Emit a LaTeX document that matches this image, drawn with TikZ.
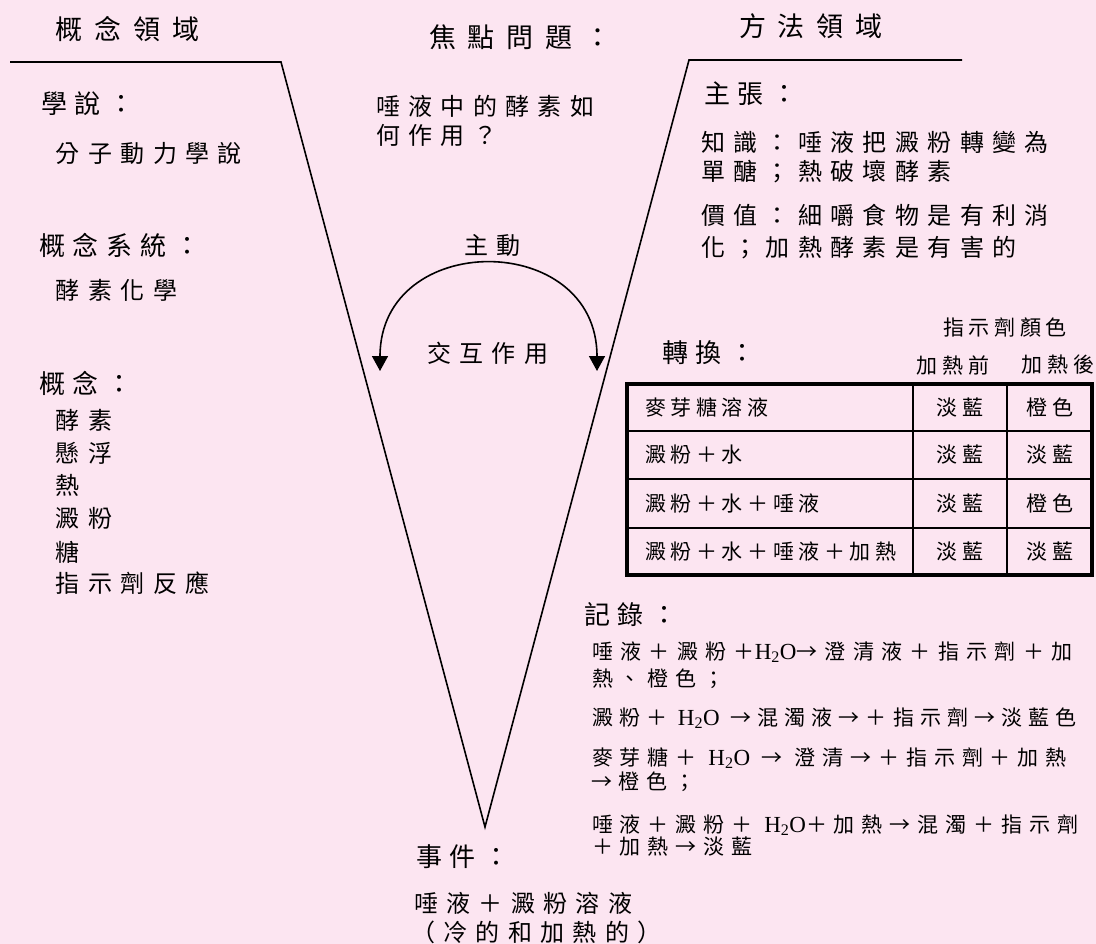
\documentclass[tikz,border=0pt]{standalone}
\usepackage{fontspec}
\setmainfont{Noto Sans CJK TC}
\newfontfamily\lat{Liberation Serif}
\usetikzlibrary{arrows.meta}
\definecolor{bgpink}{RGB}{252,229,241}
\newcommand\fTitle{\fontsize{27}{30}\selectfont\addfontfeature{LetterSpace=44}}
\newcommand\fHead{\fontsize{26}{28}\selectfont\addfontfeature{LetterSpace=30}}
\newcommand\fBody{\fontsize{24}{26}\selectfont\addfontfeature{LetterSpace=35}}
\newcommand\fTab{\fontsize{21}{22}\selectfont\addfontfeature{LetterSpace=22}}
\newcommand\fRec{\fontsize{21}{22}\selectfont\addfontfeature{LetterSpace=33}}
\newcommand\fRecN{\fontsize{21}{22}\selectfont\addfontfeature{LetterSpace=29}}
\newcommand\fRecW{\fontsize{21}{22}\selectfont\addfontfeature{LetterSpace=35}}
\newcommand\HHO{{\lat\fontsize{23}{26}\selectfont H\textsubscript{2}O}}
\begin{document}
\begin{tikzpicture}[x=1pt,y=-1pt,
  every node/.style={inner sep=0pt,outer sep=0pt},
  ttl/.style={anchor=west,font=\fTitle},
  head/.style={anchor=west,font=\fHead},
  body/.style={anchor=west,font=\fBody},
  tab/.style={font=\fTab},
  rec/.style={anchor=west,font=\fRec},
  vline/.style={line width=1.6pt,line join=miter},
  tipped/.style={line width=1.6pt,{Triangle[width=16pt,length=15pt]}-{Triangle[width=16pt,length=15pt]}}]
\fill[bgpink] (0,0) rectangle (1096,944);
\useasboundingbox (0,0) rectangle (1096,944);

% V shape
\coordinate (lend) at (10,62);
\coordinate (ltop) at (281,62);
\coordinate (apex) at (485,827);
\coordinate (rtop) at (689,60);
\coordinate (rend) at (962,60);
\draw[vline] (lend) -- (ltop) -- (apex) -- (rtop) -- (rend);

% titles
\node[ttl] (tConcept) at (56,29) {概念領域};
\node[ttl] (tFocus) at (429,37) {焦點問題：};
\node[ttl] (tMethod) at (739,26) {方法領域};

% left side
\node[head] (hTheory) at (41,104) {學說：};
\node[body] (bTheory) at (56,153) {分子動力學說};
\node[head] (hSystem) at (39,245) {概念系統：};
\node[body] (bSystem) at (56,290) {酵素化學};
\node[head] (hConcept) at (39,383) {概念：};
\node[body] (c1) at (56,420) {酵素};
\node[body] (c2) at (56,453) {懸浮};
\node[body] (c3) at (56,485) {熱};
\node[body] (c4) at (56,518) {澱粉};
\node[body] (c5) at (56,552) {糖};
\node[body] (c6) at (56,583) {指示劑反應};

% focus question
\node[body] (q1) at (376,106) {唾液中的酵素如};
\node[body] (q2) at (376,135) {何作用？};

% interaction arc
\node[body] (active) at (464,245) {主動};
\node[body] (inter) at (427,353) {交互作用};
\coordinate (arcL) at (380,371);
\coordinate (arcR) at (597,371);
\draw[tipped] (arcL) .. controls (380,230) and (597,230) .. (arcR);

% right side claims
\node[head] (hClaim) at (704,94) {主張：};
\node[body] (k1) at (701,142) {知識：唾液把澱粉轉變為};
\node[body] (k2) at (701,172) {單醣；熱破壞酵素};
\node[body] (v1) at (701,215) {價值：細嚼食物是有利消};
\node[body] (v2) at (701,248) {化；加熱酵素是有害的};

% transformation table
\node[head] (hTrans) at (662,353) {轉換：};
\node[tab] (thColor) at (1005,327) {指示劑顏色};
\node[tab] (thBefore) at (953,365) {加熱前};
\node[tab] (thAfter) at (1058,365) {加熱後};
\coordinate (tbNW) at (627,384);
\coordinate (tbSE) at (1092,575);
\draw[line width=1.5pt] (913,384) -- (913,575) (1007,384) -- (1007,575)
  (627,431) -- (1092,431) (627,479) -- (1092,479) (627,528) -- (1092,528);
\draw[line width=4.5pt] (tbNW) rectangle (tbSE);
\node[tab,anchor=west] (r1a) at (645,407.5) {麥芽糖溶液};
\node[tab] (r1b) at (960,407.5) {淡藍};
\node[tab] (r1c) at (1050,407.5) {橙色};
\node[tab,anchor=west] (r2a) at (645,455) {澱粉＋水};
\node[tab] (r2b) at (960,455) {淡藍};
\node[tab] (r2c) at (1050,455) {淡藍};
\node[tab,anchor=west] (r3a) at (645,503.5) {澱粉＋水＋唾液};
\node[tab] (r3b) at (960,503.5) {淡藍};
\node[tab] (r3c) at (1050,503.5) {橙色};
\node[tab,anchor=west] (r4a) at (645,551.5) {澱粉＋水＋唾液＋加熱};
\node[tab] (r4b) at (960,551.5) {淡藍};
\node[tab] (r4c) at (1050,551.5) {淡藍};

% records
\node[head] (hRec) at (584,615) {記錄：};
\node[rec,font=\fRecW] (rec1) at (592,652) {唾液＋澱粉＋\HHO→澄清液＋指示劑＋加};
\node[rec] (rec2) at (592,679) {熱、橙色；};
\node[rec,font=\fRecN] (rec3) at (592,718) {澱粉＋ \HHO\ →混濁液→＋指示劑→淡藍色};
\node[rec] (rec4) at (592,758) {麥芽糖＋ \HHO\ → 澄清→＋指示劑＋加熱};
\node[rec] (rec5) at (591,782) {→橙色；};
\node[rec] (rec6) at (592,825) {唾液＋澱粉＋ \HHO＋加熱→混濁＋指示劑};
\node[rec] (rec7) at (592,847) {＋加熱→淡藍};

% event
\node[head] (hEvent) at (416,857) {事件：};
\node[body] (e1) at (414,903) {唾液＋澱粉溶液};
\node[body] (e2) at (411,932) {（冷的和加熱的）};
\end{tikzpicture}
\end{document}
